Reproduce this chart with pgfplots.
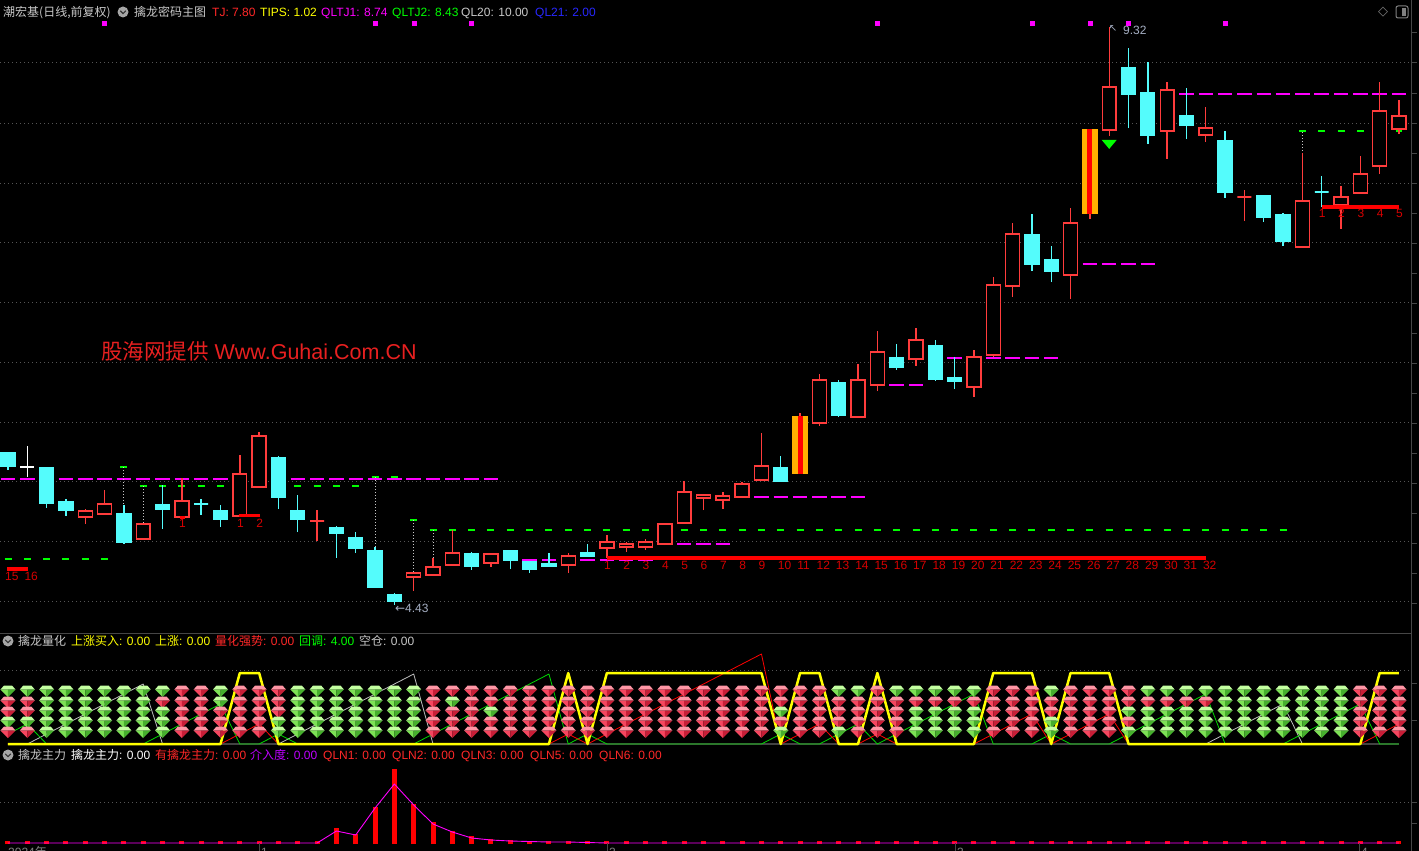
\documentclass[border=0pt]{standalone}
\usepackage{pgfplots}
\usepackage{pgfplotstable}
\pgfplotsset{compat=1.18}
\usepackage{fontspec}
\setmainfont{Liberation Sans}
\newfontfamily\cjk{Noto Sans CJK SC}
\newfontfamily\dvs{DejaVu Sans}

\definecolor{ccyan}{RGB}{84,252,252}
\definecolor{cred}{RGB}{255,60,60}
\definecolor{cred2}{RGB}{255,0,0}
\definecolor{corange}{RGB}{255,176,0}
\definecolor{cmag}{RGB}{255,0,255}
\definecolor{cgreen}{RGB}{0,255,0}
\definecolor{clab}{RGB}{215,0,0}
\definecolor{cwm}{RGB}{232,32,32}
\definecolor{ctxt}{RGB}{200,200,200}
\definecolor{cgrid}{RGB}{85,85,85}
\definecolor{cframe}{RGB}{70,70,70}
\definecolor{cprice}{RGB}{165,175,195}
\definecolor{cblue}{RGB}{40,40,255}
\definecolor{cyel}{RGB}{255,255,0}
\definecolor{cpurp}{RGB}{190,0,255}
\definecolor{ctj}{RGB}{255,40,40}
\definecolor{cgray}{RGB}{190,190,190}
\definecolor{cdot}{RGB}{200,200,200}
\definecolor{gRt}{RGB}{255,150,165}
\definecolor{gRl}{RGB}{245,70,95}
\definecolor{gRr}{RGB}{200,30,55}
\definecolor{gGt}{RGB}{195,255,160}
\definecolor{gGl}{RGB}{125,225,85}
\definecolor{gGr}{RGB}{70,175,45}

\pgfdeclareplotmark{gemR}{%
 \pgfpathmoveto{\pgfqpoint{-4pt}{5.5pt}}\pgfpathlineto{\pgfqpoint{4pt}{5.5pt}}\pgfpathlineto{\pgfqpoint{7.5pt}{1.5pt}}\pgfpathlineto{\pgfqpoint{-7.5pt}{1.5pt}}\pgfpathclose
 \pgfsetfillcolor{gRt}\pgfusepath{fill}%
 \pgfpathmoveto{\pgfqpoint{-7.5pt}{1.5pt}}\pgfpathlineto{\pgfqpoint{0pt}{1.5pt}}\pgfpathlineto{\pgfqpoint{0pt}{-6pt}}\pgfpathclose
 \pgfsetfillcolor{gRl}\pgfusepath{fill}%
 \pgfpathmoveto{\pgfqpoint{7.5pt}{1.5pt}}\pgfpathlineto{\pgfqpoint{0pt}{1.5pt}}\pgfpathlineto{\pgfqpoint{0pt}{-6pt}}\pgfpathclose
 \pgfsetfillcolor{gRr}\pgfusepath{fill}%
}
\pgfdeclareplotmark{gemG}{%
 \pgfpathmoveto{\pgfqpoint{-4pt}{5.5pt}}\pgfpathlineto{\pgfqpoint{4pt}{5.5pt}}\pgfpathlineto{\pgfqpoint{7.5pt}{1.5pt}}\pgfpathlineto{\pgfqpoint{-7.5pt}{1.5pt}}\pgfpathclose
 \pgfsetfillcolor{gGt}\pgfusepath{fill}%
 \pgfpathmoveto{\pgfqpoint{-7.5pt}{1.5pt}}\pgfpathlineto{\pgfqpoint{0pt}{1.5pt}}\pgfpathlineto{\pgfqpoint{0pt}{-6pt}}\pgfpathclose
 \pgfsetfillcolor{gGl}\pgfusepath{fill}%
 \pgfpathmoveto{\pgfqpoint{7.5pt}{1.5pt}}\pgfpathlineto{\pgfqpoint{0pt}{1.5pt}}\pgfpathlineto{\pgfqpoint{0pt}{-6pt}}\pgfpathclose
 \pgfsetfillcolor{gGr}\pgfusepath{fill}%
}
\pgfdeclareplotmark{dtri}{%
 \pgfpathmoveto{\pgfqpoint{-7.5pt}{4.5pt}}\pgfpathlineto{\pgfqpoint{7.5pt}{4.5pt}}\pgfpathlineto{\pgfqpoint{0pt}{-4.5pt}}\pgfpathclose
 \pgfusepathqfill
}

% candle macros: index, open, high, low, close
\newcommand\cU[5]{%
 \pgfmathsetmacro\xa{#1-0.36}\pgfmathsetmacro\xb{#1+0.36}%
 \addplot[cred, line width=1.4pt] coordinates {(#1,#4) (#1,#3)};%
 \addplot[draw=cred, fill=black, line width=1.4pt] coordinates {(\xa,#2) (\xb,#2) (\xb,#5) (\xa,#5)} -- cycle;%
}
\newcommand\cD[5]{%
 \pgfmathsetmacro\xa{#1-0.36}\pgfmathsetmacro\xb{#1+0.36}%
 \addplot[ccyan, line width=1.4pt] coordinates {(#1,#4) (#1,#3)};%
 \addplot[draw=ccyan, fill=ccyan, line width=1.4pt] coordinates {(\xa,#2) (\xb,#2) (\xb,#5) (\xa,#5)} -- cycle;%
}
\newcommand\cW[4]{%
 \pgfmathsetmacro\xa{#1-0.36}\pgfmathsetmacro\xb{#1+0.36}%
 \addplot[white, line width=1.4pt] coordinates {(#1,#4) (#1,#3)};%
 \addplot[white, line width=1.4pt] coordinates {(\xa,#2) (\xb,#2)};%
}
\newcommand\cS[5]{%
 \pgfmathsetmacro\xa{#1-0.43}\pgfmathsetmacro\xb{#1+0.43}%
 \pgfmathsetmacro\xc{#1-0.13}\pgfmathsetmacro\xd{#1+0.13}%
 \addplot[cred, line width=1.4pt] coordinates {(#1,#4) (#1,#3)};%
 \addplot[draw=none, fill=corange] coordinates {(\xa,#2) (\xb,#2) (\xb,#5) (\xa,#5)} -- cycle;%
 \addplot[draw=none, fill=cred2] coordinates {(\xc,#2) (\xd,#2) (\xd,#5) (\xc,#5)} -- cycle;%
}

\pgfplotstableread{
i r1 r2 r3 r4 r5
0 g r r g r
1 g r r g r
2 g g g g g
3 g g g g g
4 g g g g g
5 g g g g g
6 g g g g g
7 g g g g g
8 g r g g g
9 r r r r r
10 r r r r r
11 g g r r r
12 r r r r r
13 r r r r r
14 r r r g g
15 g g g g g
16 g g g g g
17 g g g g g
18 g g g g g
19 g g g g g
20 g g g g g
21 g g g g g
22 r r r r r
23 r g r r r
24 r r r r r
25 r r g r r
26 r r r r r
27 r r r r r
28 r r r r r
29 r r r r r
30 r r r r r
31 r r r r r
32 r r r r r
33 r r r r r
34 r r r r r
35 r r r r r
36 r r r r r
37 r r r r r
38 r r r r r
39 r r r r r
40 r r g r g
41 r r r r r
42 r r r r r
43 g r r r g
44 g r r r r
45 r r r r r
46 g r r r r
47 g r g g g
48 g r g g g
49 g r g g g
50 g r g g g
51 r r r r r
52 r r r r r
53 r r r r r
54 g r r g g
55 r r r r r
56 r r r r r
57 r r r r r
58 r r g r g
59 g r g g g
60 g r g g g
61 g r g g g
62 g r g g g
63 g g g g g
64 g g g g g
65 g g g g g
66 g g g g g
67 g g g g g
68 g g g g g
69 g g g g g
70 r r r r r
71 r r r r r
72 r r r r r
}\gems

\tikzset{t/.style={anchor=base west, inner sep=0pt, font=\fontsize{12}{14}\selectfont}}

\begin{document}
\begin{tikzpicture}
\useasboundingbox (0pt,0pt) rectangle (1419pt,-851pt);
\clip (0pt,0pt) rectangle (1419pt,-851pt);
\fill[black] (0pt,0pt) rectangle (1419pt,-851pt);

\begin{scope}[x=1pt,y=-1pt]
\foreach \yy in {63,123,183,242,302,362,422,481,541,601,670,802}
  \draw[cgrid, line width=1pt, dash pattern=on 1pt off 3pt] (0,\yy) -- (1411,\yy);
\end{scope}

% ================= main panel =================
\begin{axis}[at={(0pt,0pt)}, anchor=north west, scale only axis, width=1411pt, height=632pt,
  xmin=-0.414, xmax=72.62, ymin=4.201, ymax=9.548, hide axis, clip=true]

% horizontal indicator levels
\addplot[cmag, line width=1.6pt, dash pattern=on 14.5pt off 4.82pt] coordinates {(-0.375,5.496) (25.375,5.496)};
\addplot[cmag, line width=1.6pt, dash pattern=on 14.5pt off 4.82pt] coordinates {(25.625,4.810) (33.375,4.810)};
\addplot[cmag, line width=1.6pt, dash pattern=on 14.5pt off 4.82pt] coordinates {(33.625,4.946) (37.375,4.946)};
\addplot[cmag, line width=1.6pt, dash pattern=on 14.5pt off 4.82pt] coordinates {(37.625,5.343) (44.375,5.343)};
\addplot[cmag, line width=1.6pt, dash pattern=on 14.5pt off 4.82pt] coordinates {(44.625,6.291) (47.375,6.291)};
\addplot[cmag, line width=1.6pt, dash pattern=on 14.5pt off 4.82pt] coordinates {(47.625,6.519) (54.375,6.519)};
\addplot[cmag, line width=1.6pt, dash pattern=on 14.5pt off 4.82pt] coordinates {(54.625,7.315) (59.375,7.315)};
\addplot[cmag, line width=1.6pt, dash pattern=on 14.5pt off 4.82pt] coordinates {(59.625,8.753) (72.375,8.753)};

\addplot[cgreen, line width=1.6pt, dash pattern=on 7pt off 12.32pt] coordinates {(-0.181,4.819) (5.181,4.819)};
\addplot[cgreen, line width=1.6pt, dash pattern=on 7pt off 12.32pt] coordinates {(6.819,5.436) (18.181,5.436)};
\addplot[cgreen, line width=1.6pt, dash pattern=on 7pt off 12.32pt] coordinates {(21.819,5.064) (66.181,5.064)};
\addplot[cgreen, line width=1.6pt, dash pattern=on 7pt off 12.32pt] coordinates {(66.819,8.440) (72.181,8.440)};
\addplot[cgreen, line width=1.6pt] coordinates {(5.819,5.597) (6.181,5.597)};
\addplot[cgreen, line width=1.6pt, dash pattern=on 7pt off 12.32pt] coordinates {(18.819,5.513) (20.181,5.513)};
\addplot[cgreen, line width=1.6pt] coordinates {(20.819,5.149) (21.181,5.149)};

\addplot[cdot, line width=1pt, dash pattern=on 1pt off 2pt] coordinates {(6,5.597) (6,5.276)};
\addplot[cdot, line width=1pt, dash pattern=on 1pt off 2pt] coordinates {(7,5.436) (7,5.115)};
\addplot[cdot, line width=1pt, dash pattern=on 1pt off 2pt] coordinates {(19,5.513) (19,4.920)};
\addplot[cdot, line width=1pt, dash pattern=on 1pt off 2pt] coordinates {(21,5.149) (21,4.700)};
\addplot[cdot, line width=1pt, dash pattern=on 1pt off 2pt] coordinates {(22,5.064) (22,4.827)};
\addplot[cdot, line width=1pt, dash pattern=on 1pt off 2pt] coordinates {(67,8.431) (67,8.254)};

% candles
\cD{0}{5.716}{5.724}{5.572}{5.606}
\cW{1}{5.597}{5.775}{5.513}
\cD{2}{5.589}{5.589}{5.250}{5.293}
\cD{3}{5.301}{5.327}{5.183}{5.233}
\cU{4}{5.174}{5.242}{5.115}{5.225}
\cU{5}{5.200}{5.403}{5.191}{5.284}
\cD{6}{5.200}{5.276}{4.946}{4.963}
\cU{7}{4.988}{5.115}{4.988}{5.115}
\cD{8}{5.276}{5.445}{5.073}{5.242}
\cU{9}{5.174}{5.504}{5.174}{5.310}
\cD{10}{5.284}{5.327}{5.191}{5.284}
\cD{11}{5.225}{5.276}{5.090}{5.157}
\cU{12}{5.183}{5.699}{5.183}{5.538}
\cU{13}{5.428}{5.893}{5.428}{5.860}
\cD{14}{5.673}{5.690}{5.242}{5.343}
\cD{15}{5.225}{5.360}{5.047}{5.157}
\cU{16}{5.140}{5.233}{4.971}{5.140}
\cD{17}{5.081}{5.098}{4.827}{5.039}
\cD{18}{4.997}{5.047}{4.870}{4.912}
\cD{19}{4.886}{4.920}{4.574}{4.582}
\cD{20}{4.514}{4.531}{4.430}{4.464}
\cU{21}{4.667}{4.700}{4.548}{4.700}
\cU{22}{4.684}{4.827}{4.684}{4.751}
\cU{23}{4.768}{5.064}{4.768}{4.870}
\cD{24}{4.861}{4.878}{4.726}{4.760}
\cU{25}{4.785}{4.861}{4.751}{4.861}
\cD{26}{4.886}{4.895}{4.734}{4.810}
\cD{27}{4.793}{4.793}{4.700}{4.734}
\cD{28}{4.777}{4.870}{4.760}{4.760}
\cU{29}{4.768}{4.870}{4.700}{4.844}
\cD{30}{4.870}{4.946}{4.844}{4.844}
\cU{31}{4.912}{5.022}{4.827}{4.963}
\cU{32}{4.920}{4.963}{4.878}{4.946}
\cU{33}{4.920}{4.988}{4.895}{4.963}
\cU{34}{4.946}{5.115}{4.937}{5.115}
\cU{35}{5.123}{5.479}{5.123}{5.386}
\cU{36}{5.335}{5.360}{5.233}{5.360}
\cU{37}{5.318}{5.386}{5.242}{5.352}
\cU{38}{5.343}{5.470}{5.343}{5.454}
\cU{39}{5.487}{5.885}{5.487}{5.606}
\cD{40}{5.589}{5.690}{5.479}{5.479}
\cS{41}{5.538}{6.054}{5.538}{6.029}
\cU{42}{5.969}{6.384}{5.944}{6.333}
\cD{43}{6.308}{6.333}{6.020}{6.037}
\cU{44}{6.020}{6.469}{6.020}{6.333}
\cU{45}{6.291}{6.748}{6.240}{6.570}
\cD{46}{6.519}{6.638}{6.418}{6.443}
\cU{47}{6.511}{6.773}{6.452}{6.672}
\cD{48}{6.621}{6.672}{6.325}{6.342}
\cD{49}{6.350}{6.528}{6.257}{6.325}
\cU{50}{6.274}{6.587}{6.189}{6.528}
\cU{51}{6.545}{7.205}{6.528}{7.137}
\cU{52}{7.128}{7.661}{7.035}{7.568}
\cD{53}{7.560}{7.738}{7.255}{7.315}
\cD{54}{7.348}{7.467}{7.162}{7.255}
\cU{55}{7.222}{7.788}{7.018}{7.661}
\cS{56}{7.738}{8.457}{7.695}{8.457}
\cU{57}{8.448}{9.320}{8.397}{8.812}
\cD{58}{8.973}{9.142}{8.465}{8.753}
\cD{59}{8.761}{9.023}{8.330}{8.406}
\cU{60}{8.440}{8.854}{8.203}{8.787}
\cD{61}{8.567}{8.804}{8.372}{8.491}
\cU{62}{8.406}{8.643}{8.347}{8.465}
\cD{63}{8.355}{8.440}{7.873}{7.924}
\cU{64}{7.881}{7.941}{7.678}{7.881}
\cD{65}{7.890}{7.890}{7.670}{7.712}
\cD{66}{7.729}{7.746}{7.467}{7.509}
\cU{67}{7.458}{8.254}{7.458}{7.848}
\cD{68}{7.924}{8.059}{7.797}{7.924}
\cU{69}{7.814}{7.974}{7.611}{7.881}
\cU{70}{7.915}{8.228}{7.915}{8.076}
\cU{71}{8.144}{8.854}{8.076}{8.609}
\cU{72}{8.457}{8.702}{8.414}{8.567}

\addplot[cred2, line width=3.5pt] coordinates {(-0.05,4.734) (1.04,4.734)};
\addplot[cred2, line width=3pt] coordinates {(11.98,5.183) (13.04,5.183)};
\addplot[cred2, line width=3pt] coordinates {(8.9,5.174) (9.15,5.174)};
\addplot[cred2, line width=3.5pt] coordinates {(31,4.827) (62,4.827)};
\addplot[cred2, line width=3.5pt] coordinates {(68,7.797) (72,7.797)};

% signals
\addplot[only marks, mark=dtri, cgreen] coordinates {(57,8.326)};
\addplot[only marks, mark=square*, mark size=2pt, cmag] coordinates {(5,9.353) (19,9.353) (21,9.353) (24,9.353) (45,9.353) (53,9.353) (56,9.353) (58,9.353) (63,9.353)};

% count labels
\addplot[draw=none, nodes near coords, point meta=explicit symbolic,
  every node near coord/.append style={anchor=north west, inner sep=0pt, xshift=-3pt, text=clab, font=\fontsize{12}{12}\selectfont}]
 coordinates {(31,4.802) [1] (32,4.802) [2] (33,4.802) [3] (34,4.802) [4] (35,4.802) [5] (36,4.802) [6] (37,4.802) [7] (38,4.802) [8]
 (39,4.802) [9] (40,4.802) [10] (41,4.802) [11] (42,4.802) [12] (43,4.802) [13] (44,4.802) [14] (45,4.802) [15] (46,4.802) [16]
 (47,4.802) [17] (48,4.802) [18] (49,4.802) [19] (50,4.802) [20] (51,4.802) [21] (52,4.802) [22] (53,4.802) [23] (54,4.802) [24]
 (55,4.802) [25] (56,4.802) [26] (57,4.802) [27] (58,4.802) [28] (59,4.802) [29] (60,4.802) [30] (61,4.802) [31] (62,4.802) [32]
 (0,4.709) [15] (1,4.709) [16] (9,5.157) [1] (12,5.157) [1] (13,5.157) [2]
 (68,7.780) [1] (69,7.780) [2] (70,7.780) [3] (71,7.780) [4] (72,7.780) [5]};

\node[anchor=west, inner sep=0pt, text=cprice, font=\dvs\fontsize{10}{12}\selectfont] at (axis cs:56.97,9.303) {↖};
\node[anchor=west, inner sep=0pt, text=cprice, font=\fontsize{12}{14}\selectfont] at (axis cs:57.71,9.294) {9.32};
\node[anchor=west, inner sep=0pt, text=cprice, font=\fontsize{12}{14}\selectfont] at (axis cs:20.03,4.404) {{\dvs ←}4.43};
\end{axis}

% ================= middle panel =================
\begin{axis}[at={(0pt,-633pt)}, anchor=north west, scale only axis, width=1411pt, height=112pt,
  xmin=-0.414, xmax=72.62, ymin=-0.1, ymax=11.1, hide axis, clip=false]
\addplot[scatter, only marks, scatter src=explicit symbolic, scatter/classes={r={mark=gemR}, g={mark=gemG}}] table[x=i, y expr=5.3, meta=r1] {\gems};
\addplot[scatter, only marks, scatter src=explicit symbolic, scatter/classes={r={mark=gemR}, g={mark=gemG}}] table[x=i, y expr=4.2, meta=r2] {\gems};
\addplot[scatter, only marks, scatter src=explicit symbolic, scatter/classes={r={mark=gemR}, g={mark=gemG}}] table[x=i, y expr=3.2, meta=r3] {\gems};
\addplot[scatter, only marks, scatter src=explicit symbolic, scatter/classes={r={mark=gemR}, g={mark=gemG}}] table[x=i, y expr=2.2, meta=r4] {\gems};
\addplot[scatter, only marks, scatter src=explicit symbolic, scatter/classes={r={mark=gemR}, g={mark=gemG}}] table[x=i, y expr=1.2, meta=r5] {\gems};

\addplot[cgray, line width=0.8pt, line join=round] coordinates {(0,0) (1,0) (7,6) (8,0) (14,0) (21,7) (22,0) (62,0) (66,4) (67,0) (72,0)};
\addplot[green!85!black, line width=0.8pt, line join=round] coordinates {(0,1) (1,2) (2,0) (7,0) (11,4) (12,0) (13,0) (14,1) (15,0) (21,0) (28,7) (29,0) (30,1) (31,0) (39,0) (40,1) (41,0) (42,0) (44,2) (45,0) (50,5) (51,0) (53,0) (54,1) (55,0) (57,0) (62,5) (63,0) (66,0) (70,4) (71,0) (72,0)};
\addplot[cred2, line width=0.8pt, line join=round] coordinates {(0,0) (11,0) (12,1) (13,2) (14,0) (28,0) (29,1) (30,0) (39,9) (40,0) (41,1) (42,2) (43,0) (44,0) (45,1) (46,0) (50,0) (51,1) (53,3) (54,0) (55,1) (57,3) (58,0) (70,0) (71,1) (72,2)};
\addplot[cyel, line width=2.5pt, line join=round] coordinates {(0,0) (11,0) (12,7.1) (13,7.1) (14,0) (28,0) (29,7.1) (30,0) (31,7.1) (39,7.1) (40,0) (41,7.1) (42,7.1) (43,0) (44,0) (45,7.1) (46,0) (50,0) (51,7.1) (53,7.1) (54,0) (55,7.1) (57,7.1) (58,0) (70,0) (71,7.1) (72,7.1)};
\end{axis}

% ================= bottom panel =================
\begin{axis}[at={(0pt,-745pt)}, anchor=north west, scale only axis, width=1411pt, height=106pt,
  xmin=-0.414, xmax=72.62, ymin=-7, ymax=99, hide axis, clip=false]
\addplot[ycomb, cred2, line width=5pt] coordinates {
(0,3) (1,3) (2,3) (3,3) (4,3) (5,3) (6,3) (7,3) (8,3) (9,3) (10,3) (11,3) (12,3) (13,3) (14,3) (15,3) (16,3)
(17,16) (18,10) (19,37) (20,75) (21,40) (22,22) (23,13) (24,8) (25,5) (26,4)
(27,3) (28,3) (29,3) (30,3) (31,3) (32,3) (33,3) (34,3) (35,3) (36,3) (37,3) (38,3) (39,3) (40,3) (41,3) (42,3) (43,3) (44,3)
(45,3) (46,3) (47,3) (48,3) (49,3) (50,3) (51,3) (52,3) (53,3) (54,3) (55,3) (56,3) (57,3) (58,3) (59,3) (60,3) (61,3) (62,3)
(63,3) (64,3) (65,3) (66,3) (67,3) (68,3) (69,3) (70,3) (71,3) (72,3)};
\addplot[cmag, line width=0.9pt, line join=round] coordinates {(0,1) (16,1) (17,13) (18,9) (19,36) (20,60) (21,39) (22,20) (23,12) (24,6) (25,4) (26,3) (27,2.5) (28,2) (29,2) (30,1.5) (31,1) (72,1)};
\end{axis}

% ================= frame, titles =================
\begin{scope}[x=1pt,y=-1pt]
\draw[cframe, line width=1pt] (1411.5,0) -- (1411.5,851);
\draw[cframe, line width=1pt] (0,633) -- (1411,633);
\foreach \yy in {33,63,...,603} \draw[cframe, line width=1pt] (1411.5,\yy) -- (1417,\yy);
\foreach \yy in {683,720,802,823} \draw[cframe, line width=1pt] (1411.5,\yy) -- (1417,\yy);
\foreach \xx in {259,607,955,1359} \draw[cframe, line width=1pt] (\xx,843) -- (\xx,851);

% icons
\foreach \cx/\cy in {123/12, 8/641, 8/755} {
  \fill[gray!70] (\cx,\cy) circle (5.5);
  \draw[black!80, line width=1.2pt] (\cx-2.8,\cy-1.2) -- (\cx,\cy+1.6) -- (\cx+2.8,\cy-1.2);
}
\node[anchor=center, inner sep=0pt, text=gray, font=\dvs\fontsize{13}{13}\selectfont] at (1383,12) {◇};
\draw[gray, line width=1pt, rounded corners=2pt] (1396,6) rectangle (1408,18);
\fill[gray] (1402,8) rectangle (1406,16);

% main title
\node[t, text=ctxt] at (3,16.3) {\cjk 潮宏基(日线,前复权)};
\node[t, text=ctxt] at (134,16.3) {\cjk 擒龙密码主图};
\node[t, text=ctj] at (212,16.3) {TJ: 7.80};
\node[t, text=cyel] at (260,16.3) {TIPS: 1.02};
\node[t, text=cmag] at (321,16.3) {QLTJ1: 8.74};
\node[t, text=cgreen] at (392,16.3) {QLTJ2: 8.43};
\node[t, text=ctxt] at (461,16.3) {QL20: 10.00};
\node[t, text=cblue] at (535,16.3) {QL21: 2.00};

% watermark
\node[anchor=base west, inner sep=0pt, text=cwm, font=\fontsize{21.5}{24}\selectfont] at (101,359) {{\cjk 股海网提供} Www.Guhai.Com.CN};

% middle title
\node[t, text=ctxt] at (18,645.5) {\cjk 擒龙量化};
\node[t, text=cyel] at (71,645.5) {{\cjk 上涨买入}: 0.00};
\node[t, text=cyel] at (155,645.5) {{\cjk 上涨}: 0.00};
\node[t, text=ctj] at (215,645.5) {{\cjk 量化强势}: 0.00};
\node[t, text=cgreen] at (299,645.5) {{\cjk 回调}: 4.00};
\node[t, text=ctxt] at (359,645.5) {{\cjk 空仓}: 0.00};

% bottom title
\node[t, text=ctxt] at (18,759.5) {\cjk 擒龙主力};
\node[t, text=white] at (71,759.5) {{\cjk 擒龙主力}: 0.00};
\node[t, text=ctj] at (155,759.5) {{\cjk 有擒龙主力}: 0.00};
\node[t, text=cpurp] at (250,759.5) {{\cjk 介入度}: 0.00};
\node[t, text=ctj] at (323,759.5) {QLN1: 0.00};
\node[t, text=ctj] at (392,759.5) {QLN2: 0.00};
\node[t, text=ctj] at (461,759.5) {QLN3: 0.00};
\node[t, text=ctj] at (530,759.5) {QLN5: 0.00};
\node[t, text=ctj] at (599,759.5) {QLN6: 0.00};

% date axis (cut at bottom edge, as in the reference)
\node[t, text=gray] at (8,856) {2024{\cjk 年}};
\node[t, text=gray] at (261,856) {1};
\node[t, text=gray] at (609,856) {2};
\node[t, text=gray] at (957,856) {3};
\node[t, text=gray] at (1361,856) {4};
\end{scope}
\end{tikzpicture}
\end{document}
